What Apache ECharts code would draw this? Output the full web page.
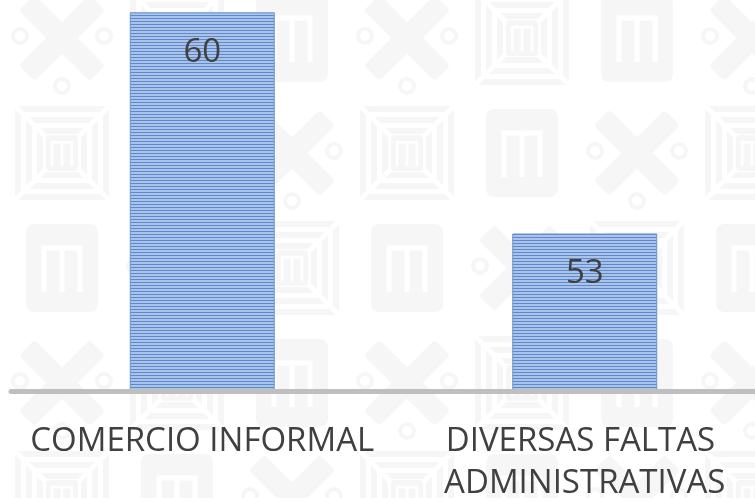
<!DOCTYPE html>
<html>
<head>
<meta charset="utf-8">
<style>
  html, body { margin: 0; padding: 0; background: #ffffff; }
  #chart { width: 755px; height: 498px; background-color: #ffffff; }
</style>
<script src="https://cdn.jsdelivr.net/npm/echarts@6/dist/echarts.min.js"></script>
</head>
<body>
<div id="chart"></div>
<script>
// Categories and counts
const categories = ['COMERCIO INFORMAL', 'DIVERSAS FALTAS ADMINISTRATIVAS'];
const counts = [60, 53];

// Value-axis range (the axis itself is not drawn)
const axisMin = 48;
const axisMax = 60;

// Narrow horizontal stripe fill for the bars
function stripePattern() {
  const c = document.createElement('canvas');
  c.width = 4;
  c.height = 3;
  const ctx = c.getContext('2d');
  ctx.fillStyle = '#a9c3ea';
  ctx.fillRect(0, 0, 4, 3);
  ctx.fillStyle = '#5f89c9';
  ctx.fillRect(0, 0, 4, 1);
  return c;
}

// Faint tiled emblem watermark behind the chart
const MARK = '#f6f6f6';

function roundRect(ctx, x, y, w, h, r) {
  ctx.beginPath();
  ctx.moveTo(x + r, y);
  ctx.lineTo(x + w - r, y);
  ctx.quadraticCurveTo(x + w, y, x + w, y + r);
  ctx.lineTo(x + w, y + h - r);
  ctx.quadraticCurveTo(x + w, y + h, x + w - r, y + h);
  ctx.lineTo(x + r, y + h);
  ctx.quadraticCurveTo(x, y + h, x, y + h - r);
  ctx.lineTo(x, y + r);
  ctx.quadraticCurveTo(x, y, x + r, y);
  ctx.closePath();
}

function drawSmallM(ctx, s) {
  ctx.strokeStyle = '#ffffff';
  ctx.lineWidth = 5 * s;
  ctx.lineCap = 'butt';
  ctx.beginPath();
  ctx.moveTo(-18 * s, 24 * s);
  ctx.lineTo(-18 * s, -20 * s);
  ctx.lineTo(18 * s, -20 * s);
  ctx.lineTo(18 * s, 24 * s);
  ctx.moveTo(0, -20 * s);
  ctx.lineTo(0, 24 * s);
  ctx.stroke();
}

function drawCross(ctx) {
  ctx.fillStyle = MARK;
  [Math.PI / 4, -Math.PI / 4].forEach(function (a) {
    ctx.save();
    ctx.rotate(a);
    roundRect(ctx, -50, -11, 100, 22, 4);
    ctx.fill();
    ctx.restore();
  });
  ctx.strokeStyle = MARK;
  ctx.lineWidth = 4;
  [[-42, -2], [42, -2], [0, 48]].forEach(function (p) {
    ctx.beginPath();
    ctx.arc(p[0], p[1], 7, 0, Math.PI * 2);
    ctx.stroke();
  });
}

function drawBadge(ctx) {
  ctx.fillStyle = MARK;
  roundRect(ctx, -36, -44, 72, 88, 9);
  ctx.fill();
  drawSmallM(ctx, 1);
}

function drawMaze(ctx) {
  ctx.strokeStyle = MARK;
  ctx.lineWidth = 6;
  [44, 33, 22].forEach(function (h) {
    ctx.strokeRect(-h, -h, 2 * h, 2 * h);
  });
  ctx.strokeStyle = '#ffffff';
  ctx.lineWidth = 5;
  ctx.beginPath();
  ctx.moveTo(-48, -48); ctx.lineTo(48, 48);
  ctx.moveTo(48, -48); ctx.lineTo(-48, 48);
  ctx.stroke();
  ctx.fillStyle = MARK;
  roundRect(ctx, -16, -18, 32, 36, 4);
  ctx.fill();
  drawSmallM(ctx, 0.55);
}

function watermarkTile() {
  const cell = 115;
  const size = cell * 3;
  const c = document.createElement('canvas');
  c.width = size;
  c.height = size;
  const ctx = c.getContext('2d');
  ctx.fillStyle = '#ffffff';
  ctx.fillRect(0, 0, size, size);
  const motifs = [drawCross, drawMaze, drawBadge];
  for (let j = 0; j < 3; j++) {
    for (let i = 0; i < 3; i++) {
      const draw = motifs[(i + j) % 3];
      for (let ox = -size; ox <= size; ox += size) {
        for (let oy = -size; oy <= size; oy += size) {
          ctx.save();
          ctx.translate(62 + cell * i + ox, 38 + cell * j + oy);
          draw(ctx);
          ctx.restore();
        }
      }
    }
  }
  return c.toDataURL();
}

const chartEl = document.getElementById('chart');
chartEl.style.backgroundImage = 'url(' + watermarkTile() + ')';
chartEl.style.backgroundRepeat = 'repeat';

const chart = echarts.init(chartEl, null, { renderer: 'canvas' });

chart.setOption({
  backgroundColor: 'transparent',
  animation: false,
  grid: {
    left: 11, top: 12.3, width: 765, bottom: 106.5,
    containLabel: false,
    outerBoundsMode: 'none'
  },
  xAxis: {
    type: 'category',
    data: categories,
    z: 5,
    axisLine: { show: true, lineStyle: { color: '#bfbfbf', width: 5 } },
    axisTick: { show: false },
    axisLabel: {
      interval: 0,
      margin: 29,
      color: '#404040',
      fontFamily: 'Open Sans',
      fontSize: 33,
      lineHeight: 42,
      width: 372,
      overflow: 'break'
    }
  },
  yAxis: {
    type: 'value',
    min: axisMin,
    max: axisMax,
    show: false,
    splitLine: { show: false }
  },
  series: [{
    type: 'bar',
    data: counts,
    barWidth: 145,
    itemStyle: {
      color: { image: stripePattern(), repeat: 'repeat' },
      borderColor: '#6a92cf',
      borderWidth: 1
    },
    label: {
      show: true,
      position: 'insideTop',
      distance: 24,
      color: '#404040',
      fontFamily: 'Open Sans',
      fontSize: 33
    }
  }]
});
</script>
</body>
</html>
